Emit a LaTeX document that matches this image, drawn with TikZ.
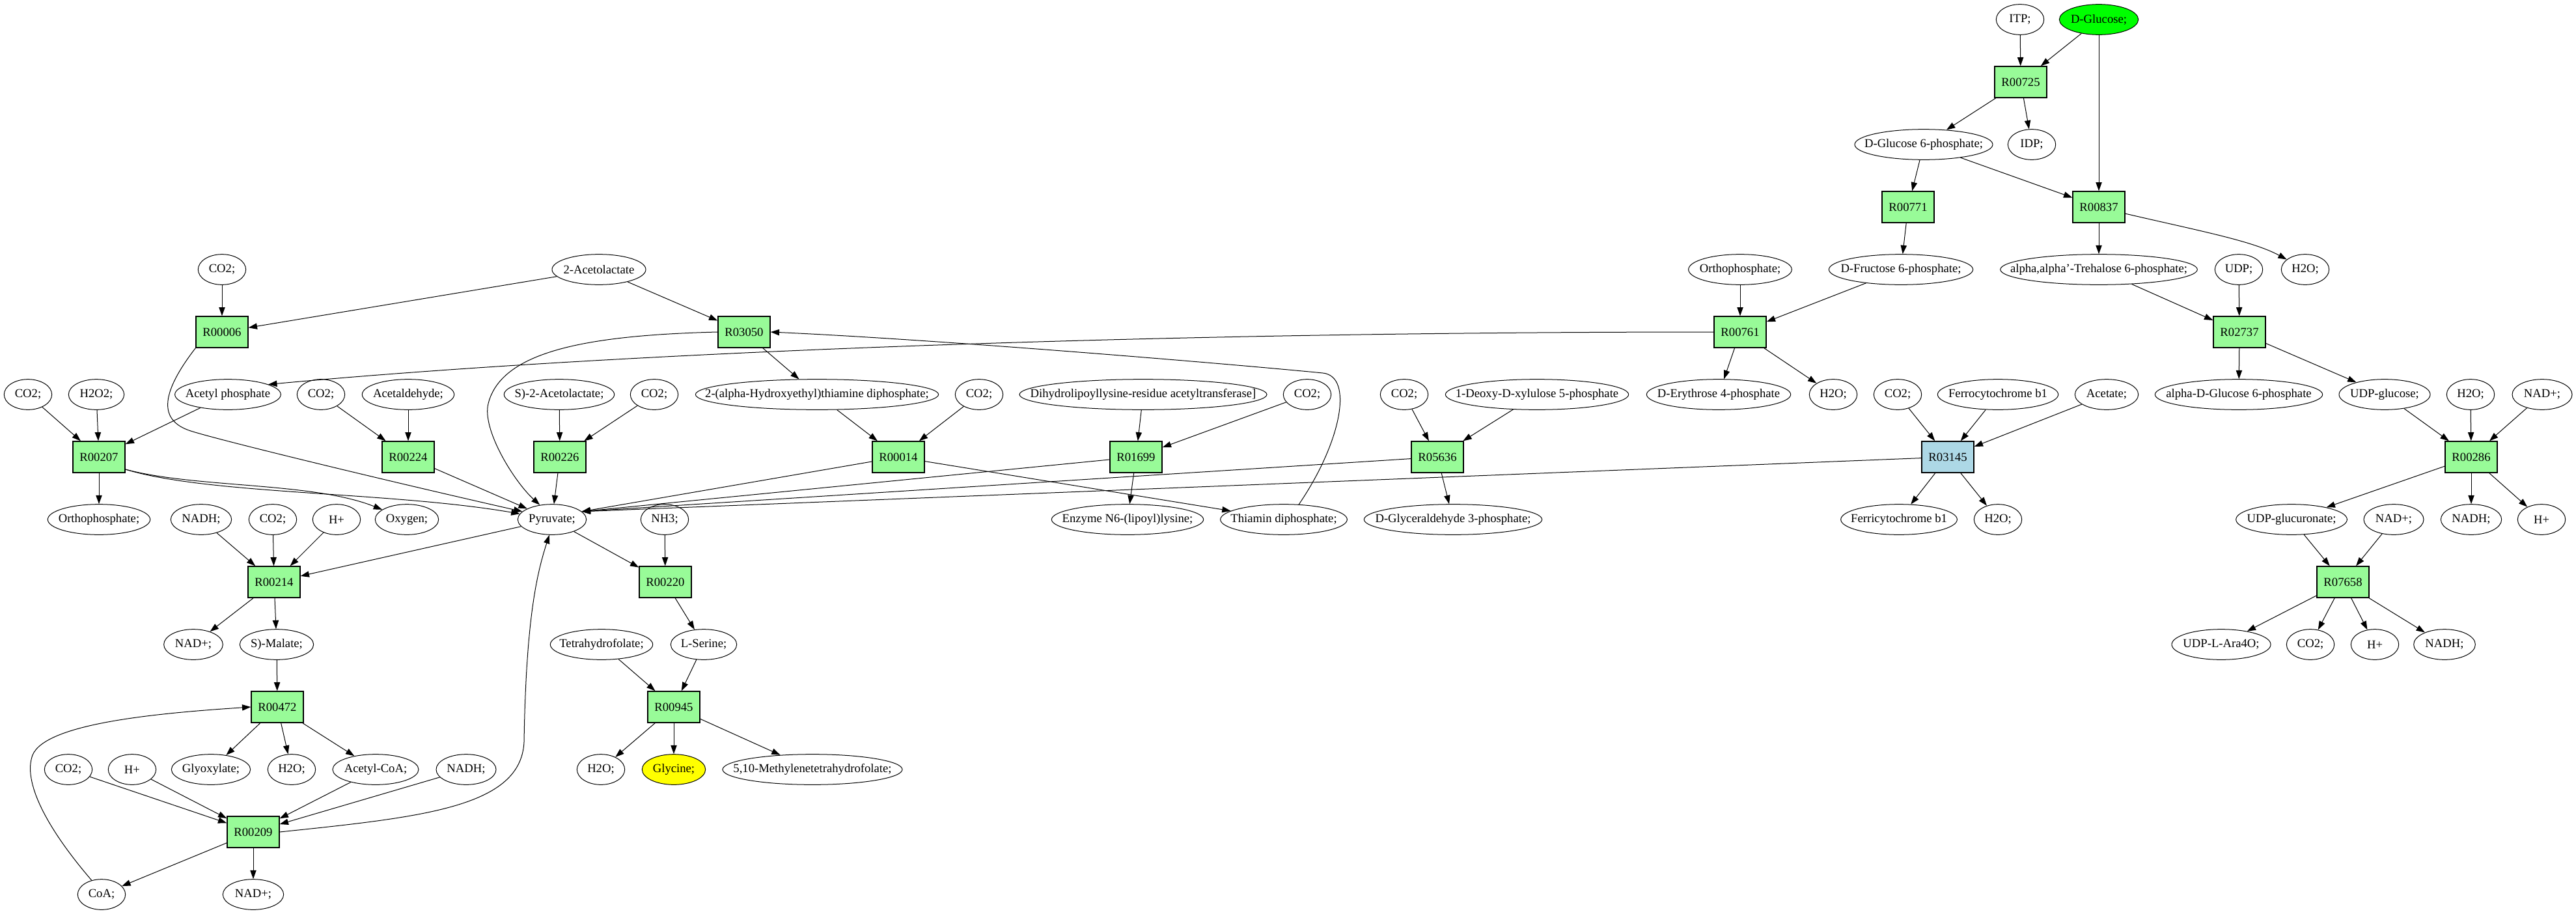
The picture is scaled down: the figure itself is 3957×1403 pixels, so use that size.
\documentclass[tikz,border=0pt]{standalone}
\usepackage{fontspec}
\setmainfont{Liberation Serif}
\usetikzlibrary{arrows.meta,shapes.geometric}
\definecolor{rxngreen}{HTML}{98FB98}
\definecolor{rxnblue}{HTML}{ADD8E6}
\definecolor{srcgreen}{HTML}{00FF00}
\definecolor{dstyellow}{HTML}{FFFF00}

\begin{document}
\begin{tikzpicture}[x=0.75pt, y=-0.75pt,
  every node/.style={font=\fontsize{14pt}{16pt}\selectfont},
  rxn/.style={draw, rectangle, fill=rxngreen, minimum width=60pt, minimum height=36pt, inner sep=0pt, line width=1pt},
  met/.style={draw, ellipse, minimum width=55pt, minimum height=35pt, inner xsep=-150pt, inner ysep=1pt, line width=0.75pt},
  flow/.style={->, >={Triangle[length=10pt,width=7pt]}, line width=0.75pt}]
\useasboundingbox (0,0) rectangle (3957,1403);
\def \yA {30}  \def \yB {126} \def \yC {222} \def \yD {318} \def \yE {414}
\def \yF {510} \def \yG {606} \def \yH {702} \def \yI {798} \def \yJ {894}
\def \yK {990} \def \yL {1086} \def \yM {1182} \def \yN {1278} \def \yO {1374}
% glucose branch
\node[met] at (3103,\yA) (itp) {ITP;};
\node[met, fill=srcgreen, minimum width=91pt] at (3224,\yA) (glc) {D-Glucose;};
\node[rxn] at (3104,\yB) (r00725) {R00725};
\node[met, minimum width=159pt] at (2955,\yC) (g6p) {D-Glucose 6-phosphate;};
\node[met] at (3121,\yC) (idp) {IDP;};
\node[rxn] at (2931,\yD) (r00771) {R00771};
\node[rxn] at (3224,\yD) (r00837) {R00837};
\node[met, minimum width=119pt] at (2673,\yE) (pia) {Orthophosphate;};
\node[met, minimum width=166pt] at (2920,\yE) (f6p) {D-Fructose 6-phosphate;};
\node[met, minimum width=227pt] at (3224,\yE) (t6p) {alpha,alpha'-Trehalose 6-phosphate;};
\node[met] at (3439,\yE) (udp) {UDP;};
\node[met] at (3541,\yE) (h2oa) {H2O;};
\node[met] at (341,\yE) (co2a) {CO2;};
\node[met, minimum width=108pt] at (920,\yE) (acl) {2-Acetolactate};
\node[rxn] at (341,\yF) (r00006) {R00006};
\node[rxn] at (1143,\yF) (r03050) {R03050};
\node[rxn] at (2673,\yF) (r00761) {R00761};
\node[rxn] at (3440,\yF) (r02737) {R02737};
% substrates row
\node[met] at (43,\yG) (co2b) {CO2;};
\node[met, minimum width=64pt] at (148,\yG) (h2o2) {H2O2;};
\node[met, minimum width=122pt] at (350,\yG) (acp) {Acetyl phosphate};
\node[met] at (493,\yG) (co2c) {CO2;};
\node[met, minimum width=106pt] at (627,\yG) (acald) {Acetaldehyde;};
\node[met, minimum width=127pt] at (859,\yG) (sacl) {S)-2-Acetolactate;};
\node[met] at (1005,\yG) (co2d) {CO2;};
\node[met, minimum width=280pt] at (1255,\yG) (hetpp) {2-(alpha-Hydroxyethyl)thiamine diphosphate;};
\node[met] at (1504,\yG) (co2e) {CO2;};
\node[met, minimum width=285pt] at (1756,\yG) (dlat) {Dihydrolipoyllysine-residue acetyltransferase]};
\node[met] at (2008,\yG) (co2f) {CO2;};
\node[met] at (2157,\yG) (co2g) {CO2;};
\node[met, minimum width=211pt] at (2361,\yG) (dxp) {1-Deoxy-D-xylulose 5-phosphate};
\node[met, minimum width=166pt] at (2640,\yG) (e4p) {D-Erythrose 4-phosphate};
\node[met] at (2816,\yG) (h2ob) {H2O;};
\node[met] at (2915,\yG) (co2h) {CO2;};
\node[met, minimum width=139pt] at (3069,\yG) (fcyt) {Ferrocytochrome b1};
\node[met, minimum width=73pt] at (3236,\yG) (acet) {Acetate;};
\node[met, minimum width=193pt] at (3439,\yG) (ag6p) {alpha-D-Glucose 6-phosphate};
\node[met, minimum width=105pt] at (3663,\yG) (udpg) {UDP-glucose;};
\node[met] at (3795,\yG) (h2oc) {H2O;};
\node[met, minimum width=69pt] at (3905,\yG) (nada) {NAD+;};
% reactions into pyruvate
\node[rxn] at (152,\yH) (r00207) {R00207};
\node[rxn] at (627,\yH) (r00224) {R00224};
\node[rxn] at (860,\yH) (r00226) {R00226};
\node[rxn] at (1380,\yH) (r00014) {R00014};
\node[rxn] at (1745,\yH) (r01699) {R01699};
\node[rxn] at (2208,\yH) (r05636) {R05636};
\node[rxn, fill=rxnblue] at (2992,\yH) (r03145) {R03145};
\node[rxn] at (3796,\yH) (r00286) {R00286};
% pyruvate row
\node[met, minimum width=118pt] at (152,\yI) (pib) {Orthophosphate;};
\node[met, minimum width=70pt] at (309,\yI) (nadha) {NADH;};
\node[met] at (419,\yI) (co2i) {CO2;};
\node[met] at (517,\yI) (ha) {H+};
\node[met, minimum width=73pt] at (625,\yI) (oxy) {Oxygen;};
\node[met, minimum width=79pt] at (848,\yI) (pyr) {Pyruvate;};
\node[met] at (1021,\yI) (nh3) {NH3;};
\node[met, minimum width=175pt] at (1732,\yI) (lipo) {Enzyme N6-(lipoyl)lysine;};
\node[met, minimum width=146pt] at (1972,\yI) (tpp) {Thiamin diphosphate;};
\node[met, minimum width=205pt] at (2232,\yI) (gap) {D-Glyceraldehyde 3-phosphate;};
\node[met, minimum width=134pt] at (2917,\yI) (fcytb) {Ferricytochrome b1};
\node[met] at (3069,\yI) (h2od) {H2O;};
\node[met, minimum width=128pt] at (3520,\yI) (udpgla) {UDP-glucuronate;};
\node[met, minimum width=69pt] at (3677,\yI) (nadb) {NAD+;};
\node[met, minimum width=70pt] at (3796,\yI) (nadhb) {NADH;};
\node[met] at (3904,\yI) (hb) {H+};
% lower part
\node[rxn] at (421,\yJ) (r00214) {R00214};
\node[rxn] at (1022,\yJ) (r00220) {R00220};
\node[rxn] at (3599,\yJ) (r07658) {R07658};
\node[met, minimum width=68pt] at (297,\yK) (nadc) {NAD+;};
\node[met, minimum width=85pt] at (425,\yK) (mal) {S)-Malate;};
\node[met, minimum width=118pt] at (924,\yK) (thf) {Tetrahydrofolate;};
\node[met, minimum width=76pt] at (1081,\yK) (ser) {L-Serine;};
\node[met, minimum width=114pt] at (3412,\yK) (ara) {UDP-L-Ara4O;};
\node[met] at (3549,\yK) (co2j) {CO2;};
\node[met] at (3648,\yK) (hc) {H+};
\node[met, minimum width=71pt] at (3755,\yK) (nadhc) {NADH;};
\node[rxn] at (426,\yL) (r00472) {R00472};
\node[rxn] at (1035,\yL) (r00945) {R00945};
\node[met] at (105,\yM) (co2k) {CO2;};
\node[met] at (203,\yM) (hd) {H+};
\node[met, minimum width=91pt] at (324,\yM) (glx) {Glyoxylate;};
\node[met] at (448,\yM) (h2oe) {H2O;};
\node[met, minimum width=99pt] at (577,\yM) (accoa) {Acetyl-CoA;};
\node[met, minimum width=69pt] at (716,\yM) (nadhd) {NADH;};
\node[met] at (923,\yM) (h2of) {H2O;};
\node[met, fill=dstyellow, minimum width=73pt] at (1035,\yM) (gly) {Glycine;};
\node[met, minimum width=207pt] at (1248,\yM) (mthf) {5,10-Methylenetetrahydrofolate;};
\node[rxn] at (389,\yN) (r00209) {R00209};
\node[met] at (156,\yO) (coa) {CoA;};
\node[met, minimum width=70pt] at (389,\yO) (nadd) {NAD+;};
% glucose branch edges
\path[flow] (itp) edge (r00725);
\path[flow] (glc) edge (r00725);
\path[flow] (glc) edge (r00837);
\path[flow] (r00725) edge (g6p);
\path[flow] (r00725) edge (idp);
\path[flow] (g6p) edge (r00771);
\path[flow] (g6p) edge (r00837);
\path[flow] (r00771) edge (f6p);
\path[flow] (r00837) edge (t6p);
\draw[flow] (r00837.-14) .. controls (3380,355) and (3460,370) .. (h2oa);
\path[flow] (t6p) edge (r02737);
\path[flow] (udp) edge (r02737);
\path[flow] (r02737) edge (ag6p);
\path[flow] (r02737) edge (udpg);
\path[flow] (udpg) edge (r00286);
\path[flow] (h2oc) edge (r00286);
\path[flow] (nada) edge (r00286);
\path[flow] (r00286) edge (udpgla);
\path[flow] (r00286) edge (nadhb);
\path[flow] (r00286) edge (hb);
\path[flow] (udpgla) edge (r07658);
\path[flow] (nadb) edge (r07658);
\path[flow] (r07658) edge (ara);
\path[flow] (r07658) edge (co2j);
\path[flow] (r07658) edge (hc);
\path[flow] (r07658) edge (nadhc);
\path[flow] (f6p) edge (r00761);
\path[flow] (pia) edge (r00761);
\path[flow] (r00761) edge (e4p);
\path[flow] (r00761) edge (h2ob);
\draw[flow] (r00761.west) .. controls (1700,510) and (900,545) .. (acp.14);
% into pyruvate
\path[flow] (co2h) edge (r03145);
\path[flow] (fcyt) edge (r03145);
\path[flow] (acet) edge (r03145);
\path[flow] (r03145) edge (fcytb);
\path[flow] (r03145) edge (h2od);
\path[flow] (r03145) edge (pyr.15);
\path[flow] (co2g) edge (r05636);
\path[flow] (dxp) edge (r05636);
\path[flow] (r05636) edge (gap);
\path[flow] (r05636) edge (pyr.15);
\path[flow] (dlat) edge (r01699);
\path[flow] (co2f) edge (r01699);
\path[flow] (r01699) edge (lipo);
\path[flow] (r01699) edge (pyr.15);
\path[flow] (hetpp) edge (r00014);
\path[flow] (co2e) edge (r00014);
\path[flow] (r00014) edge (tpp);
\path[flow] (r00014) edge (pyr.15);
\path[flow] (acl) edge (r03050);
\path[flow] (r03050) edge (hetpp);
\draw[flow] (tpp.45) .. controls (2060,680) and (2080,578) .. (2032,573) .. controls (1900,560) and (1450,522) .. (r03050.east);
\draw[flow] (r03050.west) .. controls (900,515) and (770,540) .. (750,620) .. controls (740,660) and (790,740) .. (pyr.130);
\path[flow] (co2a) edge (r00006);
\path[flow] (acl) edge (r00006);
\draw[flow] (r00006.south west) .. controls (250,600) and (240,645) .. (293,662) .. controls (340,677) and (600,740) .. (pyr.165);
\path[flow] (co2d) edge (r00226);
\path[flow] (sacl) edge (r00226);
\path[flow] (r00226) edge (pyr);
\path[flow] (co2c) edge (r00224);
\path[flow] (acald) edge (r00224);
\path[flow] (r00224) edge (pyr);
\path[flow] (co2b) edge (r00207);
\path[flow] (h2o2) edge (r00207);
\path[flow] (acp) edge (r00207);
\path[flow] (r00207) edge (pib);
\draw[flow] (r00207.-25) .. controls (300,750) and (480,740) .. (oxy);
\draw[flow] (r00207.-25) .. controls (320,760) and (600,755) .. (pyr.170);
% out of pyruvate
\path[flow] (pyr) edge (r00214);
\path[flow] (nadha) edge (r00214);
\path[flow] (co2i) edge (r00214);
\path[flow] (ha) edge (r00214);
\path[flow] (r00214) edge (nadc);
\path[flow] (r00214) edge (mal);
\path[flow] (mal) edge (r00472);
\draw[flow] (coa.125) .. controls (70,1270) and (35,1200) .. (50,1160) .. controls (70,1110) and (250,1095) .. (r00472.west);
\path[flow] (r00472) edge (glx);
\path[flow] (r00472) edge (h2oe);
\path[flow] (r00472) edge (accoa);
\path[flow] (co2k) edge (r00209);
\path[flow] (hd) edge (r00209);
\path[flow] (accoa) edge (r00209);
\path[flow] (nadhd) edge (r00209);
\path[flow] (r00209) edge (coa);
\path[flow] (r00209) edge (nadd);
\draw[flow] (r00209.east) .. controls (650,1255) and (800,1240) .. (805,1140) .. controls (808,950) and (825,880) .. (pyr.-100);
\path[flow] (pyr) edge (r00220);
\path[flow] (nh3) edge (r00220);
\path[flow] (r00220) edge (ser);
\path[flow] (thf) edge (r00945);
\path[flow] (ser) edge (r00945);
\path[flow] (r00945) edge (h2of);
\path[flow] (r00945) edge (gly);
\path[flow] (r00945) edge (mthf);
\end{tikzpicture}
\end{document}
